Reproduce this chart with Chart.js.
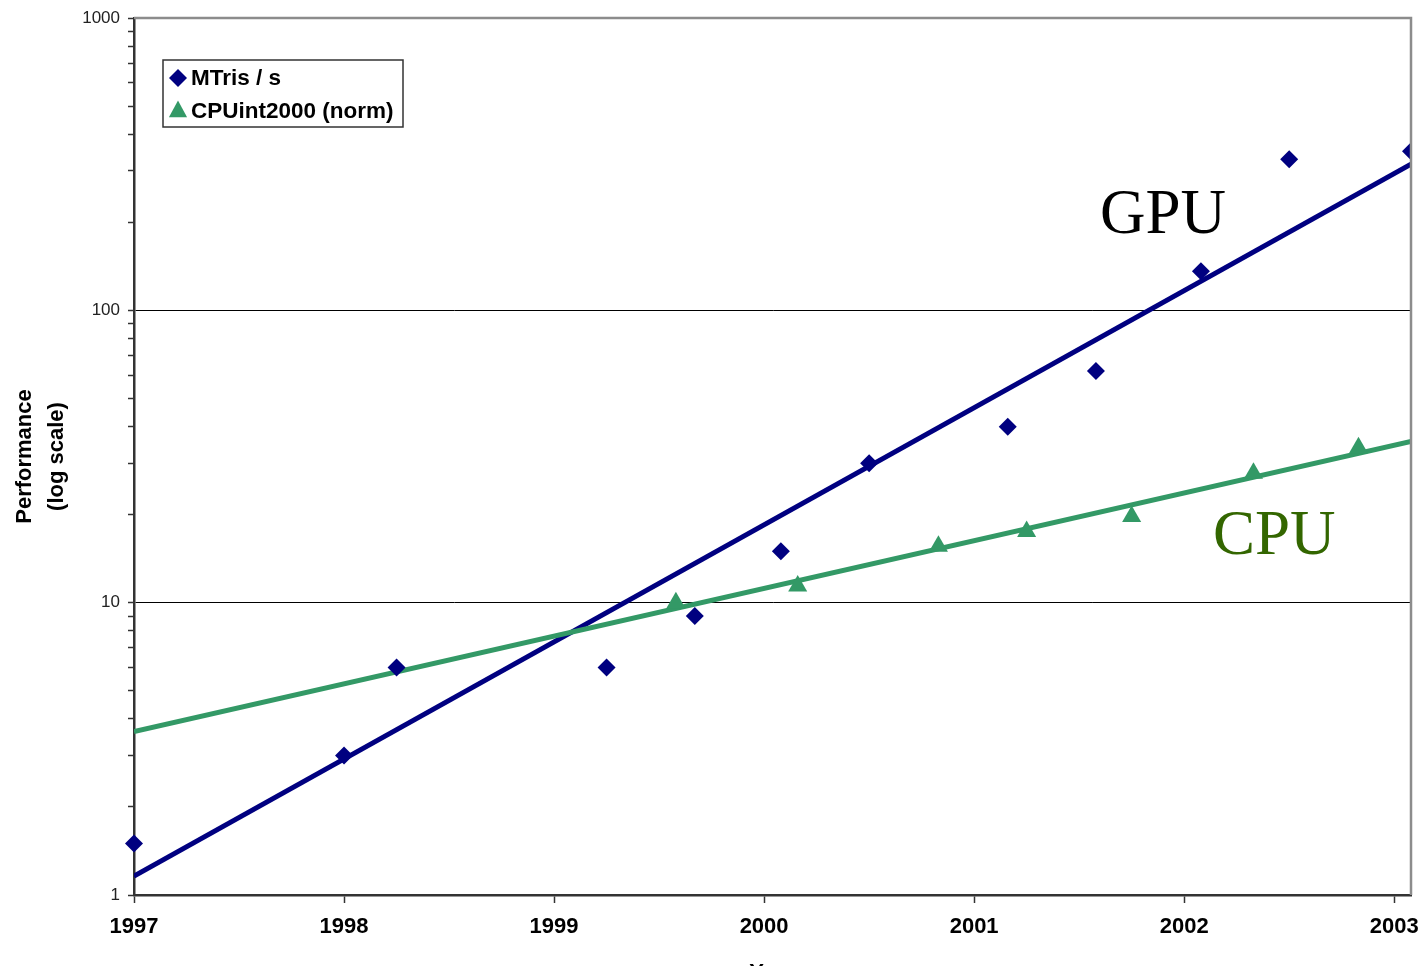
<!DOCTYPE html>
<html>
<head>
<meta charset="utf-8">
<title>GPU vs CPU performance</title>
<script src="https://cdn.jsdelivr.net/npm/chart.js@4.4.1/dist/chart.umd.min.js"></script>
<style>
  html, body { margin: 0; padding: 0; overflow: hidden; background: #ffffff; }
  #wrap { width: 1422px; height: 986px; }
</style>
</head>
<body>
<div id="wrap"><canvas id="perf" width="1422" height="986"></canvas></div>
<script>
// Measured GPU throughput (million triangles per second)
const gpuYears  = [1997.0, 1998.0, 1998.25, 1999.25, 1999.67, 2000.08, 2000.5, 2001.16, 2001.58, 2002.08, 2002.5, 2003.08];
const gpuMTris  = [1.5, 3, 6, 6, 9, 15, 30, 40, 62, 136, 329, 350];

// SPEC CPUint2000 results, normalised
const cpuYears  = [1999.58, 2000.16, 2000.83, 2001.25, 2001.75, 2002.33, 2002.83];
const cpuInt    = [10, 11.4, 15.6, 17.5, 19.7, 27.7, 33.9];

// Exponential trend lines, given at both ends of the year range
const trendYears = [1997, 2003.08];
const gpuTrend   = [1.16, 316];
const cpuTrend   = [3.62, 35.6];

// Axis ticks
const yearTicks  = [1997, 1998, 1999, 2000, 2001, 2002, 2003];
const perfTicks  = [1, 2, 3, 4, 5, 6, 7, 8, 9,
                    10, 20, 30, 40, 50, 60, 70, 80, 90,
                    100, 200, 300, 400, 500, 600, 700, 800, 900, 1000];
const decadeTicks = [1, 10, 100, 1000];
const gridTicks   = [10, 100];

const seriesNames = ['MTris / s', 'CPUint2000 (norm)'];
const curveLabels = ['GPU', 'CPU'];

const NAVY  = '#000080';
const GREEN = '#339966';
const CPU_TEXT = '#336600';

const pairs = (xs, ys) => xs.map((x, i) => ({ x: x, y: ys[i] }));

// Frame on the top and right of the plot area, plus the curve captions
const framePlugin = {
  id: 'frame',
  afterDatasetsDraw(chart) {
    const { ctx, chartArea: a } = chart;
    ctx.save();
    ctx.strokeStyle = '#8c8c8c';
    ctx.lineWidth = 2.5;
    ctx.beginPath();
    ctx.moveTo(a.left, a.top);
    ctx.lineTo(a.right, a.top);
    ctx.lineTo(a.right, a.bottom);
    ctx.stroke();

    ctx.textBaseline = 'alphabetic';
    ctx.textAlign = 'left';
    ctx.font = '63px "Liberation Serif", "Times New Roman", serif';
    ctx.fillStyle = '#000000';
    ctx.fillText(curveLabels[0], 1100, 233);
    ctx.fillStyle = CPU_TEXT;
    ctx.fillText(curveLabels[1], 1213, 554);
    ctx.restore();
  }
};

// Boxed legend inside the plot area
const boxLegendPlugin = {
  id: 'boxLegend',
  afterDraw(chart) {
    const { ctx } = chart;
    const x0 = 163, y0 = 60, w = 240, h = 67;
    ctx.save();
    ctx.fillStyle = '#ffffff';
    ctx.fillRect(x0, y0, w, h);
    ctx.strokeStyle = '#333333';
    ctx.lineWidth = 1.5;
    ctx.strokeRect(x0, y0, w, h);

    const rows = [
      { y: 78, ds: chart.data.datasets[0] },
      { y: 111, ds: chart.data.datasets[1] }
    ];
    ctx.font = 'bold 22.5px "Liberation Sans", Arial, sans-serif';
    ctx.textBaseline = 'middle';
    ctx.textAlign = 'left';
    rows.forEach(r => {
      const cx = 178, cy = r.y;
      ctx.fillStyle = r.ds.backgroundColor;
      ctx.beginPath();
      if (r.ds.pointStyle === 'rectRot') {
        const s = 9;
        ctx.moveTo(cx, cy - s);
        ctx.lineTo(cx + s, cy);
        ctx.lineTo(cx, cy + s);
        ctx.lineTo(cx - s, cy);
      } else {
        const s = 10.5;
        ctx.moveTo(cx, cy - s);
        ctx.lineTo(cx + s * Math.sqrt(3) / 2, cy + s / 2 + 1);
        ctx.lineTo(cx - s * Math.sqrt(3) / 2, cy + s / 2 + 1);
      }
      ctx.closePath();
      ctx.fill();
      ctx.fillStyle = '#000000';
      ctx.fillText(r.ds.label, 191, r.y + 1);
    });
    ctx.restore();
  }
};

new Chart(document.getElementById('perf'), {
  type: 'scatter',
  data: {
    datasets: [
      {
        label: seriesNames[0],
        data: pairs(gpuYears, gpuMTris),
        pointStyle: 'rectRot',
        pointRadius: 9,
        pointHoverRadius: 9,
        backgroundColor: NAVY,
        borderColor: NAVY,
        borderWidth: 0,
        showLine: false,
        clip: { left: 20, top: 20, right: 0, bottom: 20 },
        order: 1
      },
      {
        label: seriesNames[1],
        data: pairs(cpuYears, cpuInt),
        pointStyle: 'triangle',
        pointRadius: 11,
        pointHoverRadius: 11,
        backgroundColor: GREEN,
        borderColor: GREEN,
        borderWidth: 0,
        showLine: false,
        clip: { left: 20, top: 20, right: 0, bottom: 20 },
        order: 0
      },
      {
        label: 'GPU trend',
        data: pairs(trendYears, gpuTrend),
        showLine: true,
        borderColor: NAVY,
        borderWidth: 5,
        pointRadius: 0,
        fill: false,
        clip: 0,
        order: 3
      },
      {
        label: 'CPU trend',
        data: pairs(trendYears, cpuTrend),
        showLine: true,
        borderColor: GREEN,
        borderWidth: 5,
        pointRadius: 0,
        fill: false,
        clip: 0,
        order: 2
      }
    ]
  },
  options: {
    responsive: false,
    animation: false,
    devicePixelRatio: 1,
    layout: { padding: { top: 18, right: 8, left: 0, bottom: 0 } },
    plugins: {
      legend: { display: false },
      tooltip: { enabled: false },
      title: { display: false }
    },
    scales: {
      x: {
        type: 'linear',
        position: 'bottom',
        min: trendYears[0],
        max: trendYears[1],
        afterBuildTicks: s => { s.ticks = yearTicks.map(v => ({ value: v })); },
        afterFit: s => { s.height = 91; s.paddingLeft = 0; s.paddingRight = 0; },
        ticks: {
          autoSkip: false,
          maxRotation: 0,
          padding: 11,
          color: '#000000',
          font: { family: '"Liberation Sans", Arial, sans-serif', size: 22, weight: 'bold' },
          callback: v => String(v)
        },
        grid: {
          drawOnChartArea: false,
          drawTicks: true,
          tickLength: 8,
          tickColor: '#333333',
          tickWidth: 1.5
        },
        border: { display: true, color: '#333333', width: 2.5 },
        title: {
          display: true,
          text: 'Year',
          color: '#000000',
          font: { family: '"Liberation Sans", Arial, sans-serif', size: 22, weight: 'bold' },
          padding: { top: 0, bottom: 0 }
        }
      },
      y: {
        type: 'logarithmic',
        position: 'left',
        min: decadeTicks[0],
        max: decadeTicks[decadeTicks.length - 1],
        afterBuildTicks: s => { s.ticks = perfTicks.map(v => ({ value: v, major: decadeTicks.includes(v) })); },
        afterFit: s => { s.width = 134; s.paddingTop = 0; s.paddingBottom = 0; },
        ticks: {
          autoSkip: false,
          padding: 8,
          color: '#222222',
          font: { family: '"Liberation Sans", Arial, sans-serif', size: 17 },
          callback: v => (decadeTicks.includes(v) ? String(v) : '')
        },
        grid: {
          drawTicks: true,
          tickLength: 6,
          lineWidth: 1,
          color: c => (c.tick && gridTicks.includes(c.tick.value)) ? '#000000' : 'rgba(0,0,0,0)',
          tickColor: '#333333',
          tickWidth: 1.5
        },
        border: { display: true, color: '#333333', width: 2.5 },
        title: {
          display: true,
          text: ['Performance', '(log scale)'],
          color: '#000000',
          font: { family: '"Liberation Sans", Arial, sans-serif', size: 22, weight: 'bold', lineHeight: 1.45 },
          padding: { top: 9, bottom: 0 }
        }
      }
    }
  },
  plugins: [framePlugin, boxLegendPlugin]
});
</script>
</body>
</html>
